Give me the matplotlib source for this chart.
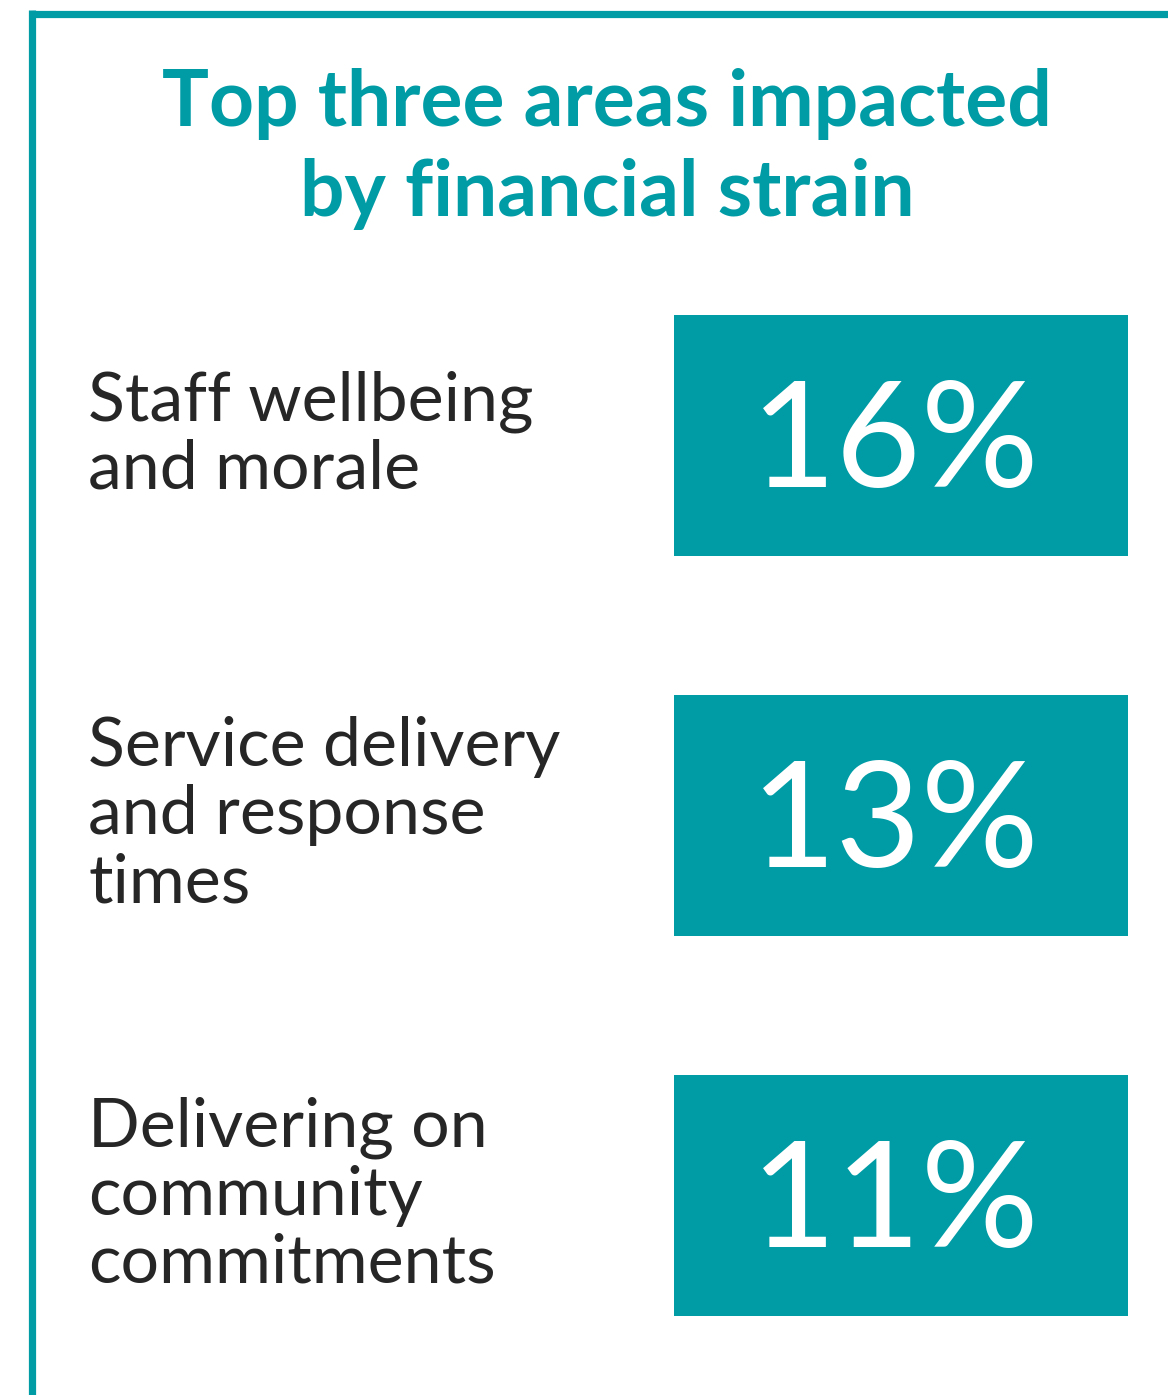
import matplotlib.pyplot as plt
from matplotlib.patches import Rectangle

TEAL = "#009ca6"
DARK = "#262626"

title_lines = ["Top three areas impacted", "by financial strain"]
areas = [
    "Staff wellbeing\nand morale",
    "Service delivery\nand response\ntimes",
    "Delivering on\ncommunity\ncommitments",
]
shares = [16, 13, 11]


def main():
    W, H = 1168, 1395
    fig = plt.figure(figsize=(W / 100, H / 100), dpi=100)
    ax = fig.add_axes([0, 0, 1, 1])
    ax.set_xlim(0, W)
    ax.set_ylim(H, 0)
    ax.axis("off")

    # frame: top and left rules only
    ax.plot([31.5, W + 10], [13.5, 13.5], color=TEAL, lw=5.2, solid_capstyle="butt")
    ax.plot([31.5, 31.5], [10, H + 10], color=TEAL, lw=5.2, solid_capstyle="butt")

    ax.text(607, 104, title_lines[0], ha="center", va="center", color=TEAL,
            fontsize=56.5, fontweight="bold", family="Lato")
    ax.text(607, 194, title_lines[1], ha="center", va="center", color=TEAL,
            fontsize=56.5, fontweight="bold", family="Lato")

    box_x, box_w, box_h = 674, 454, 241
    tops = [315, 695, 1075]
    for label, val, top in zip(areas, shares, tops):
        ax.add_patch(Rectangle((box_x, top), box_w, box_h, color=TEAL, lw=0))
        ax.text(box_x + box_w / 2 - 6, top + box_h / 2 + 10, f"{val}%",
                ha="center", va="center", color="white", fontsize=106,
                fontweight="normal", family="Lato")
        ax.text(88, top + box_h / 2, label, ha="left", va="center", color=DARK,
                fontsize=49, family="Lato", linespacing=1.12)

    fig.savefig("out.png", dpi=100, facecolor="white")


if __name__ == "__main__":
    main()
